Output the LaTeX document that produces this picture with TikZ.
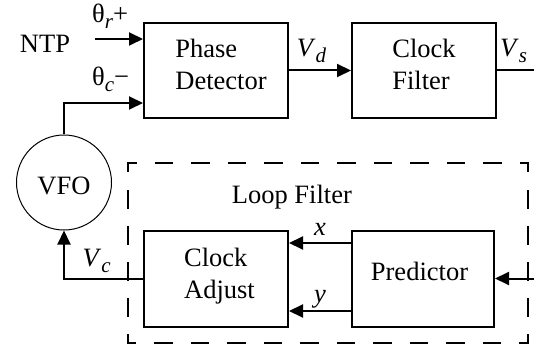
\documentclass[tikz,border=0pt]{standalone}
\usepackage{fontspec}
\setmainfont{Liberation Serif}
\usetikzlibrary{arrows.meta}
\newcommand\subsc[1]{\raisebox{-6pt}{\fontsize{21}{21}\selectfont\itshape #1}}
\newcommand\lowstrut[1]{\rule[-#1]{0pt}{#1}}
\begin{document}
\begin{tikzpicture}[x=1pt,y=-1pt,
  font=\fontsize{26.5}{32}\selectfont,
  block/.style={draw,line width=2pt,minimum width=144pt,minimum height=95pt,inner sep=0pt,align=left},
  arr/.style={line width=2pt,-{Triangle[length=14pt,width=13pt]}},
  wire/.style={line width=2pt},
  lbl/.style={inner sep=0pt,anchor=base west},
  clbl/.style={inner sep=0pt,anchor=base},
  dashside/.style={line width=2pt,line cap=rect,dash pattern=on 16.5pt off #1,dash phase=8.5pt}]
\useasboundingbox (0,0) rectangle (534,347);

% blocks
\node[block] (pd) at (216,70.5) {\hspace*{10pt}Phase\\\hspace*{10pt}Detector\lowstrut{12pt}};
\node[block] (cf) at (424,70.5) {Clock\\Filter\lowstrut{12pt}};
\node[block,minimum height=96pt] (ca) at (216,279) {\hspace*{7pt}Clock\\\hspace*{7pt}Adjust\lowstrut{12pt}};
\node[block,minimum width=142pt,minimum height=96pt] (pr) at (423,279) {Predictor\hspace*{7pt}\lowstrut{14.7pt}};
\node[circle,draw,line width=1pt,minimum size=95pt,inner sep=0pt,text height=23.6pt,text depth=0pt] (vfo) at (64,182.5) {VFO\hspace{11pt}};

% loop filter frame
\node[minimum width=400.5pt,minimum height=179.5pt,inner sep=0pt,outer sep=0pt] (loop) at (327.75,253.25) {};
\draw[dashside=20pt] (loop.north west) -- (loop.north east);
\draw[dashside=19.5pt] (loop.north east) -- (loop.south east);
\draw[dashside=20pt] (loop.south east) -- (loop.south west);
\draw[dashside=19.5pt] (loop.south west) -- (loop.north west);

% labels
\node[lbl] (loopl) at (231.7,203.3) {Loop Filter};
\node[clbl] (ntp) at (45,52.7) {NTP};
\node[lbl] (thr) at (92,23) {θ\subsc{r}+};
\node[lbl] (thc) at (92,86) {θ\subsc{c}−};
\node[lbl] (vd) at (296.7,57) {\textit{V}\subsc{d}};
\node[lbl] (vs) at (500,57) {\textit{V}\subsc{s}};
\node[lbl] (vc) at (82.5,266) {\textit{V}\subsc{c}};
\node[clbl] (xl) at (320,235) {\textit{x}};
\node[clbl] (yl) at (320,302) {\textit{y}};

% free ends
\coordinate (ntpin) at (95,39);
\coordinate (vsout) at (534,70.5);
\coordinate (prin) at (534,278.5);

% connectors
\draw[arr] (ntpin) -- (ntpin -| pd.west);
\draw[arr] (vfo.north) |- ([yshift=-32.5pt]pd.west);
\draw[arr] (pd.east) -- (cf.west);
\draw[wire] (cf.east) -- (vsout);
\draw[arr] (prin) -- (prin -| pr.east);
\draw[arr] ([yshift=36pt]pr.west) -- ([yshift=36pt]ca.east);
\draw[arr] ([yshift=-32pt]pr.west) -- ([yshift=-32pt]ca.east);
\draw[arr] (ca.west) -| (vfo.south);
\end{tikzpicture}
\end{document}
